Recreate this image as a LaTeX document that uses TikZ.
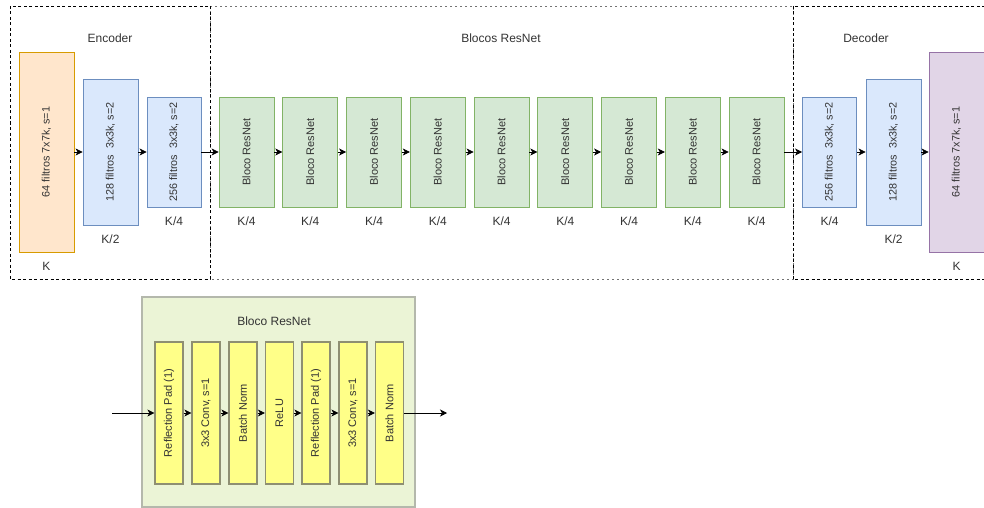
\documentclass[tikz,border=0pt]{standalone}
\usepackage{fontspec}
\setmainfont{Liberation Sans}
\usetikzlibrary{arrows.meta}
\definecolor{orF}{HTML}{FFE6CC}\definecolor{orD}{HTML}{D79B00}
\definecolor{blF}{HTML}{DAE8FC}\definecolor{blD}{HTML}{6C8EBF}
\definecolor{grF}{HTML}{D5E8D4}\definecolor{grD}{HTML}{82B366}
\definecolor{puF}{HTML}{E1D5E7}\definecolor{puD}{HTML}{9673A6}
\definecolor{yeF}{HTML}{FFFF88}\definecolor{yeD}{HTML}{8E8F72}
\definecolor{lgF}{HTML}{EBF4D6}\definecolor{lgD}{HTML}{B4B8AC}
\definecolor{txt}{HTML}{333333}
\tikzset{
  lay/.style={draw, line width=0.9pt, inner sep=0pt, text=txt, font=\fontsize{10.8}{12}\selectfont},
  orbox/.style={lay, fill=orF, draw=orD, minimum width=55pt, minimum height=200pt},
  blbig/.style={lay, fill=blF, draw=blD, minimum width=55pt, minimum height=146pt},
  blsmall/.style={lay, fill=blF, draw=blD, minimum width=54pt, minimum height=110pt},
  grbox/.style={lay, fill=grF, draw=grD, minimum width=55pt, minimum height=110pt, font=\fontsize{11}{13}\selectfont},
  pubox/.style={lay, fill=puF, draw=puD, minimum width=55pt, minimum height=200pt},
  yebox/.style={lay, fill=yeF, draw=yeD, line width=1.2pt, minimum width=28pt, minimum height=142pt, font=\fontsize{11}{13}\selectfont},
  sz/.style={text=txt, font=\fontsize{12}{14}\selectfont, inner sep=0pt},
  ttl/.style={text=txt, font=\fontsize{12}{14}\selectfont, inner sep=0pt},
  arr/.style={draw=black, line width=0.7pt, -{Stealth[length=7pt,width=7pt,inset=2pt]}},
}
\newcommand{\rt}[1]{\rotatebox{90}{#1}}
\begin{document}
\begin{tikzpicture}[x=1pt,y=-1pt]
\useasboundingbox (0,0) rectangle (984,508);
% containers
\draw[draw=black!55, line width=0.7pt, dash pattern=on 2pt off 3pt] (210,6) rectangle (793,279);
\draw[draw=black, line width=0.7pt, dash pattern=on 3pt off 2.5pt] (10,6) rectangle (210,279);
\draw[draw=black, line width=0.7pt, dash pattern=on 3pt off 2.5pt] (793,6) rectangle (990,279);
\node[ttl] (tenc) at (110,38) {Encoder};
\node[ttl] (tres) at (501,38) {Blocos ResNet};
\node[ttl] (tdec) at (866,38) {Decoder};
% encoder
\node[orbox] (e1) at (46.5,152) {\rt{64 filtros 7x7k, s=1}};
\node[blbig] (e2) at (110.5,152) {\rt{128 filtros\ \ 3x3k, s=2}};
\node[blsmall] (e3) at (174,152) {\rt{256 filtros\ \ 3x3k, s=2}};
\node[sz] (ke1) at (46.5,266) {K};
\node[sz] (ke2) at (110.5,239) {K/2};
\node[sz] (ke3) at (174,221) {K/4};
% resnet blocks
\foreach \i in {1,...,9} {
  \node[grbox] (g\i) at ({246.5+63.75*(\i-1)},152) {\rt{Bloco ResNet}};
  \node[sz] (kg\i) at ({246.5+63.75*(\i-1)},221) {K/4};
}
% decoder
\node[blsmall] (d1) at (829.5,152) {\rt{256 filtros\ \ 3x3k, s=2}};
\node[blbig] (d2) at (893.5,152) {\rt{128 filtros\ \ 3x3k, s=2}};
\node[pubox] (d3) at (956.5,152) {\rt{64 filtros 7x7k, s=1}};
\node[sz] (kd1) at (829.5,221) {K/4};
\node[sz] (kd2) at (893.5,239) {K/2};
\node[sz] (kd3) at (956.5,266) {K};
% arrows top
\draw[arr] (e1) -- (e2);
\draw[arr] (e2) -- (e3);
\draw[arr] (e3) -- (g1);
\foreach \i/\j in {1/2,2/3,3/4,4/5,5/6,6/7,7/8,8/9} { \draw[arr] (g\i) -- (g\j); }
\draw[arr] (g9) -- (d1);
\draw[arr] (d1) -- (d2);
\draw[arr] (d2) -- (d3);
% bottom detail
\node[draw=lgD, fill=lgF, line width=1.2pt, minimum width=273pt, minimum height=210pt, inner sep=0pt] (rb) at (278.5,402) {};
\node[ttl] (trb) at (274,321) {Bloco ResNet};
\node[yebox] (y1) at (169,413) {\rt{Reflection Pad (1)}};
\node[yebox] (y2) at (206,413) {\rt{3x3 Conv, s=1}};
\node[yebox] (y3) at (243,413) {\rt{Batch Norm}};
\node[yebox] (y4) at (279.5,413) {\rt{ReLU}};
\node[yebox] (y5) at (316,413) {\rt{Reflection Pad (1)}};
\node[yebox] (y6) at (353,413) {\rt{3x3 Conv, s=1}};
\node[yebox] (y7) at (389.5,413) {\rt{Batch Norm}};
\coordinate (bin) at (112,413);
\coordinate (bout) at (447,413);
\draw[arr] (bin) -- (y1);
\draw[arr] (y1) -- (y2);
\draw[arr] (y2) -- (y3);
\draw[arr] (y3) -- (y4);
\draw[arr] (y4) -- (y5);
\draw[arr] (y5) -- (y6);
\draw[arr] (y6) -- (y7);
\draw[arr] (y7) -- (bout);
\end{tikzpicture}
\end{document}
